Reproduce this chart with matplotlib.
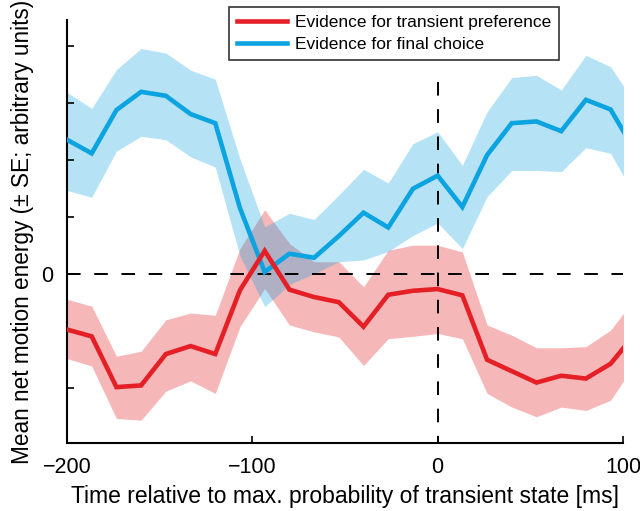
import numpy as np
import matplotlib
matplotlib.use("Agg")
import matplotlib.pyplot as plt

plt.rcParams['font.family'] = ['Liberation Sans', 'DejaVu Sans']

# time bins (ms), step 200/15
time_ms = [-200.0, -186.67, -173.33, -160.0, -146.67, -133.33, -120.0, -106.67,
           -93.33, -80.0, -66.67, -53.33, -40.0, -26.67, -13.33, 0.0,
           13.33, 26.67, 40.0, 53.33, 66.67, 80.0, 93.33, 106.67]

final_mean = [2.36, 2.12, 2.88, 3.20, 3.13, 2.81, 2.65, 1.16,
              0.04, 0.36, 0.29, 0.67, 1.08, 0.82, 1.50, 1.73,
              1.18, 2.09, 2.65, 2.68, 2.51, 3.06, 2.89, 2.15]
final_upper = [3.19, 2.91, 3.59, 3.96, 3.88, 3.58, 3.42, 2.02,
               0.83, 1.07, 0.96, 1.39, 1.84, 1.60, 2.29, 2.50,
               1.91, 2.85, 3.45, 3.49, 3.23, 3.84, 3.64, 2.99]
final_lower = [1.47, 1.35, 2.16, 2.42, 2.36, 2.06, 1.88, 0.32,
               -0.57, -0.18, 0.01, 0.22, 0.25, 0.40, 0.68, 0.90,
               0.45, 1.36, 1.82, 1.82, 1.80, 2.22, 2.12, 1.35]

trans_mean = [-0.97, -1.09, -1.98, -1.95, -1.40, -1.26, -1.40, -0.28,
              0.41, -0.27, -0.40, -0.49, -0.92, -0.36, -0.29, -0.26,
              -0.37, -1.50, -1.70, -1.90, -1.78, -1.83, -1.57, -1.04]
trans_upper = [-0.44, -0.56, -1.44, -1.35, -0.80, -0.68, -0.72, 0.45,
               1.13, 0.54, 0.22, 0.22, -0.22, 0.42, 0.51, 0.51,
               0.39, -0.89, -1.07, -1.29, -1.29, -1.27, -0.98, -0.42]
trans_lower = [-1.48, -1.61, -2.53, -2.56, -2.05, -1.87, -2.09, -0.92,
               -0.25, -0.89, -1.01, -1.10, -1.60, -1.13, -1.09, -1.04,
               -1.13, -2.09, -2.33, -2.50, -2.33, -2.39, -2.21, -1.56]

x_ticks = [-200, -100, 0, 100]
x_tick_labels = ['\u2212200', '\u2212100', '0', '100']
y_ticks = [-2, 0, 1, 2, 3, 4]
y_tick_labels = ['', '0', '', '', '', '']

red = '#E41F26'
blue = '#0BA3E0'

fig = plt.figure(figsize=(6.4, 5.11), dpi=100)
ax = fig.add_axes([0.1047, 0.1331, 0.8687, 0.8278])

ax.fill_between(time_ms, trans_lower, trans_upper, color=red, alpha=0.32, lw=0)
ax.fill_between(time_ms, final_lower, final_upper, color=blue, alpha=0.30, lw=0)

ax.plot([-200, 100], [0, 0], color='black', lw=1.4, dashes=(7, 7), zorder=3)
ax.plot([0, 0], [3.37, -2.96], color='black', lw=1.4, dashes=(7, 7), zorder=3)

l2, = ax.plot(time_ms, final_mean, color=blue, lw=3.3, solid_joinstyle='miter', zorder=4)
l1, = ax.plot(time_ms, trans_mean, color=red, lw=3.3, solid_joinstyle='miter', zorder=5)

ax.set_xlim(-200, 100)
ax.set_ylim(-2.96, 4.46)
ax.set_xticks(x_ticks)
ax.set_xticklabels(x_tick_labels)
ax.set_yticks(y_ticks)
ax.set_yticklabels(y_tick_labels)
ax.tick_params(direction='in', length=5, width=1.2, labelsize=15.5, pad=10)
for s in ['top', 'right']:
    ax.spines[s].set_visible(False)
for s in ['left', 'bottom']:
    ax.spines[s].set_linewidth(1.5)

ax.set_xlabel('Time relative to max. probability of transient state [ms]', fontsize=16.5, labelpad=5)
ax.set_ylabel('Mean net motion energy (\u00b1 SE; arbitrary units)', fontsize=16.3, labelpad=5)

leg = fig.legend([l1, l2], ['Evidence for transient preference', 'Evidence for final choice'],
                 loc='upper left', bbox_to_anchor=(229 / 640, 1 - 7 / 511), borderaxespad=0,
                 fontsize=12.5, frameon=True, fancybox=False, edgecolor='black',
                 handlelength=2.9, borderpad=0.45, labelspacing=0.4, handletextpad=0.45)
leg.get_frame().set_linewidth(1.2)

fig.savefig('out.png', dpi=100)
